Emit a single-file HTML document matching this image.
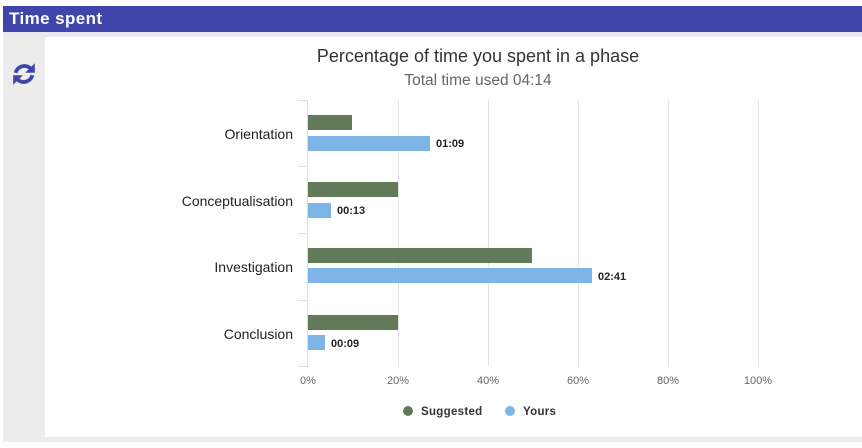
<!DOCTYPE html>
<html><head><meta charset="utf-8"><style>
html,body{margin:0;padding:0;width:862px;height:448px;background:#fff;overflow:hidden;font-family:"Liberation Sans",Arial,sans-serif;}
.hdr{position:absolute;left:3px;top:6px;width:859px;height:26px;background:#4045ab;color:#fff;font-weight:bold;font-size:17px;line-height:26px;padding-left:6px;box-sizing:border-box;letter-spacing:0.4px;}
.band{position:absolute;left:3px;top:32px;width:859px;height:5px;background:#e9e9f0;}
.side{position:absolute;left:3px;top:36px;width:42px;height:406px;background:#ececec;}
.bot{position:absolute;left:3px;top:437px;width:859px;height:5px;background:#ececec;}
svg{position:absolute;left:0;top:0;}
</style></head><body>
<div class="hdr">Time spent</div>
<div class="band"></div>
<div class="side"></div>
<div class="bot"></div>
<svg width="862" height="448" xmlns="http://www.w3.org/2000/svg" font-family="Liberation Sans, Arial, sans-serif">
  <!-- refresh icon -->
  <g transform="translate(24,74) scale(1.2)">
    <g fill="none" stroke="#3f44a8" stroke-width="3.2">
      <path d="M-7,-1 A7.5,7.5 0 0 1 6,-4"/>
      <path d="M7,1 A7.5,7.5 0 0 1 -6,4"/>
    </g>
    <polygon points="9,-9 9,-1 1,-1" fill="#3f44a8"/>
    <polygon points="-9,9 -9,1 -1,1" fill="#3f44a8"/>
  </g>
  <!-- titles -->
  <text x="478" y="62" text-anchor="middle" font-size="18" fill="#333">Percentage of time you spent in a phase</text>
  <text x="478" y="85" text-anchor="middle" font-size="15.5" fill="#666">Total time used 04:14</text>
  <!-- grid -->
  <g stroke="#e3e3e3" stroke-width="1">
    <line x1="398.5" y1="100" x2="398.5" y2="366"/>
    <line x1="488.5" y1="100" x2="488.5" y2="366"/>
    <line x1="578.5" y1="100" x2="578.5" y2="366"/>
    <line x1="668.5" y1="100" x2="668.5" y2="366"/>
    <line x1="758.5" y1="100" x2="758.5" y2="366"/>
  </g>
  <g stroke="#dcdcdc" stroke-width="1">
    <line x1="307.5" y1="100" x2="307.5" y2="366"/>
    <line x1="298" y1="100.5" x2="308" y2="100.5"/>
    <line x1="298" y1="166.5" x2="308" y2="166.5"/>
    <line x1="298" y1="233.5" x2="308" y2="233.5"/>
    <line x1="298" y1="300.5" x2="308" y2="300.5"/>
    <line x1="298" y1="366.5" x2="308" y2="366.5"/>
  </g>
  <!-- bars -->
  <g fill="#637a5a">
    <rect x="308" y="115" width="44" height="15"/>
    <rect x="308" y="182" width="90" height="15"/>
    <rect x="308" y="248" width="224" height="15"/>
    <rect x="308" y="315" width="90" height="15"/>
  </g>
  <g fill="#7cb5e6">
    <rect x="308" y="136" width="122" height="15"/>
    <rect x="308" y="203" width="23" height="15"/>
    <rect x="308" y="268" width="284" height="15"/>
    <rect x="308" y="335" width="17" height="15"/>
  </g>
  <!-- data labels -->
  <g font-size="11" font-weight="bold" fill="#222">
    <text x="436" y="147">01:09</text>
    <text x="337" y="214">00:13</text>
    <text x="598" y="280">02:41</text>
    <text x="331" y="347">00:09</text>
  </g>
  <!-- category labels -->
  <g font-size="14" fill="#222" text-anchor="end">
    <text x="293" y="139">Orientation</text>
    <text x="293" y="206">Conceptualisation</text>
    <text x="293" y="272">Investigation</text>
    <text x="293" y="339">Conclusion</text>
  </g>
  <!-- axis labels -->
  <g font-size="11" fill="#666" text-anchor="middle">
    <text x="308" y="384">0%</text>
    <text x="398" y="384">20%</text>
    <text x="488" y="384">40%</text>
    <text x="578" y="384">60%</text>
    <text x="668" y="384">80%</text>
    <text x="758" y="384">100%</text>
  </g>
  <!-- legend -->
  <circle cx="408" cy="411" r="5" fill="#637a5a"/>
  <text x="421" y="415" font-size="11.5" font-weight="bold" fill="#333" letter-spacing="0.3">Suggested</text>
  <circle cx="510" cy="411" r="5" fill="#7cb5e6"/>
  <text x="523" y="415" font-size="11.5" font-weight="bold" fill="#333" letter-spacing="0.3">Yours</text>
</svg>
</body></html>
